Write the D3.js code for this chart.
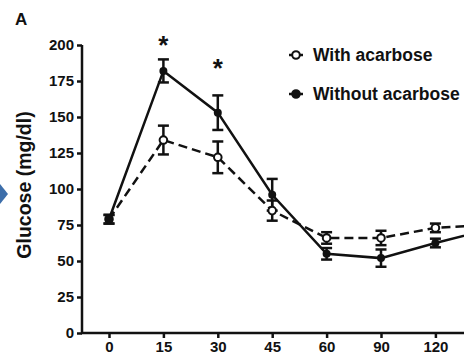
<!DOCTYPE html>
<meta charset="utf-8">
<style>
body { margin: 0; background: #fff; }
svg { display: block; }
.axis text { font: bold 15px "Liberation Sans", Arial, sans-serif; fill: #111; }
.axis path, .axis line { fill: none; stroke: #111; stroke-width: 2.5px; }
.lbl { font-family: "Liberation Sans", Arial, sans-serif; font-weight: bold; fill: #111; }
</style>
<body>
<svg></svg>
<script src="https://cdn.jsdelivr.net/npm/d3@7"></script>
<script>

var times = ["0", "15", "30", "45", "60", "90", "120", "180"];
var withAcarbose = [79, 134, 122, 85, 66, 66, 73, 75];
var withErr = [3, 10, 11, 7, 4, 5, 3, 3];
var withoutAcarbose = [79, 182, 153, 96, 55, 52, 62.5, 72];
var withoutErr = [3, 8, 12, 11, 4, 6, 3, 3];
var yTicks = [0, 25, 50, 75, 100, 125, 150, 175, 200];
var starTimes = ["15", "30"];
var starLevels = [204, 188];

var width = 464, height = 356;

var svg = d3.select("svg")
    .attr("width", width)
    .attr("height", height);

var x = d3.scalePoint()
    .domain(times)
    .range([109, 109 + 7 * 54.4]);

var y = d3.scaleLinear()
    .domain([0, 200])
    .range([333, 45]);

// little blue arrow on the left edge
svg.append("path")
    .attr("d", "M0,184 L8,194 L0,204 Z")
    .style("fill", "#3d6eaa");

svg.append("text")
    .attr("class", "lbl")
    .attr("x", 15)
    .attr("y", 25)
    .style("font-size", "17px")
    .text("A");

svg.append("text")
    .attr("class", "lbl")
    .attr("transform", "translate(31,185) rotate(-90)")
    .attr("text-anchor", "middle")
    .style("font-size", "19.5px")
    .text("Glucose (mg/dl)");

var yAxis = d3.axisLeft(y).tickValues(yTicks).tickSize(5).tickPadding(3);
svg.append("g")
    .attr("class", "y axis")
    .attr("transform", "translate(82,0)")
    .call(yAxis)
    .call(function(g) { g.select(".domain").attr("d", "M0,45V333"); });

var xAxis = d3.axisBottom(x).tickValues(times.slice(0, 7)).tickSize(5).tickPadding(3);
svg.append("g")
    .attr("class", "x axis")
    .attr("transform", "translate(0,333)")
    .call(xAxis)
    .call(function(g) { g.select(".domain").attr("d", "M81,0H464"); });

var line = d3.line()
    .x(function(d) { return x(d.t); })
    .y(function(d) { return y(d.v); });

function series(vals, errs) {
  return times.map(function(t, i) { return {t: t, v: vals[i], e: errs[i]}; });
}

var sWith = series(withAcarbose, withErr);
var sWithout = series(withoutAcarbose, withoutErr);

svg.append("path")
    .datum(sWith)
    .attr("d", line)
    .style("fill", "none")
    .style("stroke", "#111")
    .style("stroke-width", 2.5)
    .style("stroke-dasharray", "9,5");

svg.append("path")
    .datum(sWithout)
    .attr("d", line)
    .style("fill", "none")
    .style("stroke", "#111")
    .style("stroke-width", 2.5);

function errorBars(data) {
  var g = svg.append("g").style("stroke", "#111").style("stroke-width", 2.5);
  g.selectAll(".v").data(data).enter().append("line")
      .attr("x1", function(d) { return x(d.t); })
      .attr("x2", function(d) { return x(d.t); })
      .attr("y1", function(d) { return y(d.v + d.e); })
      .attr("y2", function(d) { return y(d.v - d.e); });
  [1, -1].forEach(function(s) {
    g.selectAll(".c").data(data).enter().append("line")
        .attr("x1", function(d) { return x(d.t) - 5.5; })
        .attr("x2", function(d) { return x(d.t) + 5.5; })
        .attr("y1", function(d) { return y(d.v + s * d.e); })
        .attr("y2", function(d) { return y(d.v + s * d.e); });
  });
}

errorBars(sWith);
errorBars(sWithout);

svg.append("g").selectAll("circle").data(sWith).enter().append("circle")
    .attr("cx", function(d) { return x(d.t); })
    .attr("cy", function(d) { return y(d.v); })
    .attr("r", 3.8)
    .style("fill", "#fff")
    .style("stroke", "#111")
    .style("stroke-width", 2);

svg.append("g").selectAll("circle").data(sWithout).enter().append("circle")
    .attr("cx", function(d) { return x(d.t); })
    .attr("cy", function(d) { return y(d.v); })
    .attr("r", 4)
    .style("fill", "#111");

// significance stars
svg.selectAll(".star").data(starTimes).enter().append("text")
    .attr("class", "lbl")
    .attr("x", function(t) { return x(t); })
    .attr("y", function(t, i) { return y(starLevels[i]) + 15; })
    .attr("text-anchor", "middle")
    .style("font-size", "26px")
    .text("*");

// legend
var legend = [
  {name: "With acarbose", open: true, y: 55},
  {name: "Without acarbose", open: false, y: 94}
];
var lg = svg.append("g").selectAll("g").data(legend).enter().append("g")
    .attr("transform", function(d) { return "translate(296," + d.y + ")"; });
lg.append("line")
    .attr("x1", -7).attr("x2", 7)
    .style("stroke", "#111").style("stroke-width", 2.5);
lg.append("circle")
    .attr("r", 3.8)
    .style("fill", function(d) { return d.open ? "#fff" : "#111"; })
    .style("stroke", "#111")
    .style("stroke-width", 2);
lg.append("text")
    .attr("class", "lbl")
    .attr("x", 17)
    .attr("y", 6)
    .style("font-size", "17.5px")
    .text(function(d) { return d.name; });

</script>
</body>
